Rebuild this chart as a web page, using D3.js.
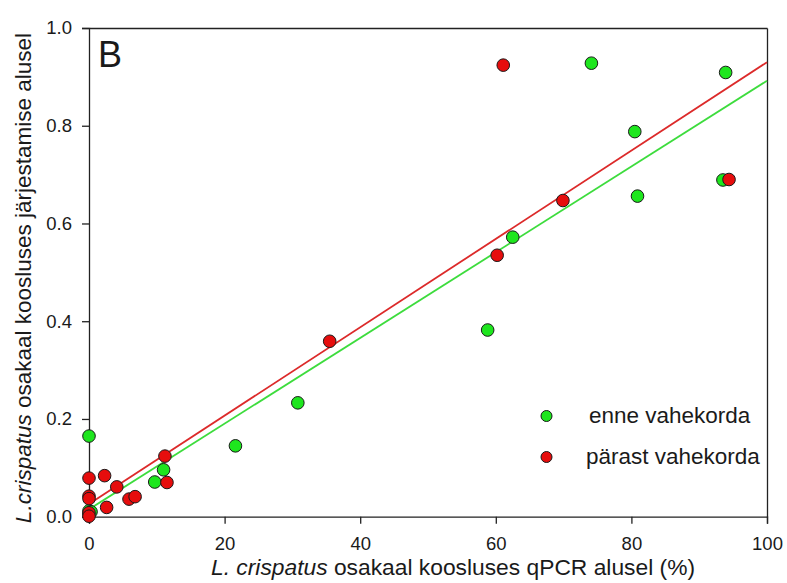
<!DOCTYPE html>
<meta charset="utf-8">
<head>
<style>
body { margin: 0; background: #fff; }
text { font-family: "Liberation Sans", Arial, sans-serif; fill: #1a1a1a; }
</style>
</head>
<body>
<div id="chart"></div>
<script src="https://d3js.org/d3.v7.min.js"></script>
<script>

// enne vahekorda (qPCR %, sequencing share)
const enneX = [0, 0, 0, 0.3, 9.7, 11.0, 21.6, 30.8, 58.8, 62.5, 74.1, 80.5, 80.9, 93.5, 93.9];
const enneY = [0.165, 0.012, 0.005, 0.01, 0.071, 0.096, 0.145, 0.233, 0.382, 0.572, 0.928, 0.788, 0.656, 0.689, 0.909];

// parast vahekorda
const parastX = [0, 0, 0, 0, 0, 2.3, 2.6, 4.1, 5.9, 6.8, 11.2, 11.5, 35.5, 60.2, 61.1, 69.9, 94.4];
const parastY = [0.079, 0.042, 0.037, 0.008, 0.001, 0.084, 0.019, 0.061, 0.036, 0.041, 0.124, 0.070, 0.359, 0.535, 0.924, 0.647, 0.690];

// regression lines: [x, y] at both ends
const enneFit = [[0, 0.015], [100, 0.892]];
const parastFit = [[0, 0.026], [100, 0.930]];

const xTicks = [0, 20, 40, 60, 80, 100];
const yTicks = [0, 0.2, 0.4, 0.6, 0.8, 1.0];
const legendLabels = ["enne vahekorda", "pärast vahekorda"];

const width = 787, height = 583;
const margin = {top: 28, right: 20, bottom: 66, left: 89};

const svg = d3.select("#chart").append("svg")
    .attr("width", width)
    .attr("height", height);

const x = d3.scaleLinear().domain([0, 100]).range([margin.left, 767]);
const y = d3.scaleLinear().domain([0, 1]).range([516.7, margin.top]);

const green = "#1ee61e", red = "#e60d0d";

// axes
svg.append("g")
    .attr("transform", "translate(0,516.7)")
    .call(d3.axisBottom(x).tickValues(xTicks).tickSize(7).tickPadding(13).tickFormat(d3.format("d")))
    .call(g => g.selectAll("text").style("font-size", "18.5px").attr("fill", "#1a1a1a"));

svg.append("g")
    .attr("transform", "translate(" + margin.left + ",0)")
    .call(d3.axisLeft(y).tickValues(yTicks).tickSize(7).tickPadding(10).tickFormat(d3.format(".1f")))
    .call(g => g.selectAll("text").style("font-size", "18.5px").attr("fill", "#1a1a1a"));

// top and right frame
svg.append("g")
    .attr("transform", "translate(0," + margin.top + ")")
    .call(d3.axisTop(x).tickValues([]).tickSizeOuter(0));
svg.append("g")
    .attr("transform", "translate(767,0)")
    .call(d3.axisRight(y).tickValues([]).tickSizeOuter(0));

svg.selectAll(".domain, .tick line").attr("stroke", "#222").attr("stroke-width", 1.3);
svg.selectAll("g").attr("font-family", null);

// fit lines
const line = d3.line().x(d => x(d[0])).y(d => y(d[1]));
svg.append("path").attr("d", line(enneFit)).attr("stroke", "#3ddc3d").attr("stroke-width", 1.8).attr("fill", "none");
svg.append("path").attr("d", line(parastFit)).attr("stroke", "#dc2a2a").attr("stroke-width", 1.8).attr("fill", "none");

// points
svg.append("g").selectAll("circle")
    .data(enneX.map((d, i) => [d, enneY[i]]))
    .enter().append("circle")
    .attr("cx", d => x(d[0]))
    .attr("cy", d => y(d[1]))
    .attr("r", 6.3)
    .attr("fill", green)
    .attr("stroke", "#1a1a1a")
    .attr("stroke-width", 1);

svg.append("g").selectAll("circle")
    .data(parastX.map((d, i) => [d, parastY[i]]))
    .enter().append("circle")
    .attr("cx", d => x(d[0]))
    .attr("cy", d => y(d[1]))
    .attr("r", 6.3)
    .attr("fill", red)
    .attr("stroke", "#1a1a1a")
    .attr("stroke-width", 1);

// panel letter
svg.append("text").attr("x", 98).attr("y", 67).style("font-size", "36px").text("B");

// legend
const legend = svg.append("g");
legendLabels.forEach((lab, i) => {
    legend.append("circle")
        .attr("cx", 546.5).attr("cy", 416 + i * 41).attr("r", 5.5)
        .attr("fill", i == 0 ? green : red)
        .attr("stroke", "#1a1a1a").attr("stroke-width", 1);
    legend.append("text")
        .attr("x", i == 0 ? 589 : 586).attr("y", 423 + i * 41)
        .style("font-size", "22.5px")
        .text(lab);
});

// axis titles
const xt = svg.append("text")
    .attr("x", 211).attr("y", 575)
    .style("font-size", "22.8px");
xt.append("tspan").style("font-style", "italic").text("L. crispatus");
xt.append("tspan").text(" osakaal koosluses qPCR alusel (%)");

const yt = svg.append("text")
    .attr("transform", "translate(31," + 278 + ") rotate(-90)")
    .attr("text-anchor", "middle")
    .style("font-size", "22.5px");
yt.append("tspan").style("font-style", "italic").text("L.crispatus");
yt.append("tspan").text(" osakaal koosluses järjestamise alusel");

</script>
</body>
